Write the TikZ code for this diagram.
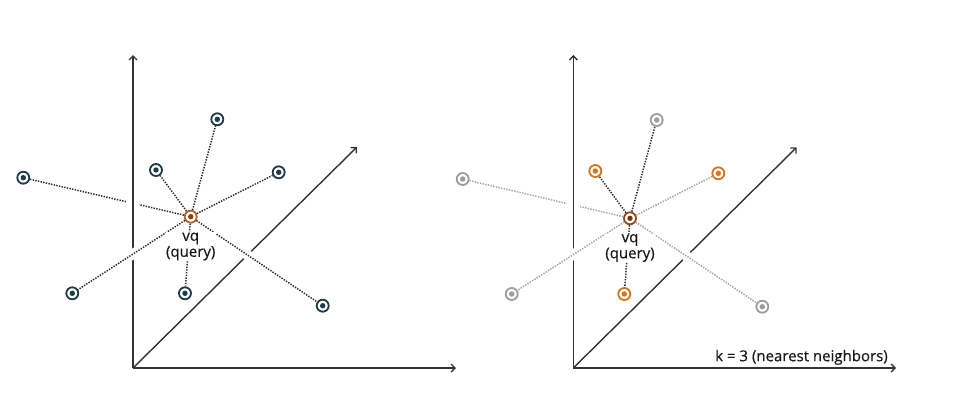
\documentclass[tikz,border=0pt]{standalone}
\usepackage{fontspec}
\setmainfont{Open Sans}
\newfontfamily\medfont[FakeBold=0.5]{Open Sans}
\usetikzlibrary{arrows.meta}
\definecolor{ptdark}{HTML}{1E3B47}
\definecolor{qringA}{HTML}{B4642A}
\definecolor{qdotA}{HTML}{8A3E12}
\definecolor{qringB}{HTML}{8E4A1E}
\definecolor{qdotB}{HTML}{7A3510}
\definecolor{nnorange}{HTML}{D2761E}
\definecolor{ptgray}{HTML}{9D9D9D}
\definecolor{axiscol}{HTML}{333333}
\definecolor{linedark}{HTML}{2E2E2E}
\definecolor{linelight}{HTML}{A5A5A5}
\tikzset{
  pt/.style 2 args={circle, draw=#1, line width=1.8pt, minimum size=12pt, inner sep=0pt, fill=white,
    path picture={\fill[#2] (path picture bounding box.center) circle (2.7pt);}},
  axisline/.style={draw=axiscol, line width=1.4pt, -{Straight Barb[length=4pt,width=8pt]}},
  dotdark/.style={draw=linedark, line width=1.5pt, dash pattern=on 1.4pt off 1.3pt},
  dotlight/.style={draw=linelight, line width=1.5pt, dash pattern=on 1.4pt off 1.3pt},
  halo/.style={draw=white, line width=10pt},
  lbl/.style={font=\medfont\fontsize{15}{16}\selectfont, text=black!90, align=center, fill=white, inner sep=0.4pt},
}
\begin{document}
\begin{tikzpicture}[x=1pt,y=-1pt]
\useasboundingbox (0,0) rectangle (956,402);
\fill[white] (0,0) rectangle (956,402);

% ---------------- left panel ----------------
\coordinate (o1) at (133,368);
\coordinate (yt1) at (133,55);
\coordinate (xe1) at (456,368);
\coordinate (de1) at (357,147);

\node[pt={qringA}{qdotA}] (q1) at (190.7,216.7) {};
\node[pt={ptdark}{ptdark}] (a1) at (217.3,119.3) {};
\node[pt={ptdark}{ptdark}] (b1) at (156,170) {};
\node[pt={ptdark}{ptdark}] (c1) at (278.7,172.3) {};
\node[pt={ptdark}{ptdark}] (f1) at (23.3,177.7) {};
\node[pt={ptdark}{ptdark}] (e1) at (72.3,293.3) {};
\node[pt={ptdark}{ptdark}] (g1) at (185,293.3) {};
\node[pt={ptdark}{ptdark}] (d1) at (322.7,305.7) {};

\draw[dotdark] (f1) -- (q1);
\path (f1.center) -- (q1.center) coordinate[pos=0.655] (x1);
\draw[draw=white, line width=13pt] ([yshift=5pt]x1) -- ([yshift=-5pt]x1);
\draw[axisline] (o1) -- (yt1);
\draw[axisline] (o1) -- (xe1);
\draw[axisline] (o1) -- (de1);
\path (q1.center) -- (e1.center) coordinate[pos=0.42] (h1a) coordinate[pos=0.555] (h1b);
\draw[halo] (h1a) -- (h1b);
\path (q1.center) -- (d1.center) coordinate[pos=0.38] (h1c) coordinate[pos=0.48] (h1d);
\draw[halo] (h1c) -- (h1d);
\draw[dotdark] (q1) -- (a1);
\draw[dotdark] (q1) -- (b1);
\draw[dotdark] (q1) -- (c1);
\draw[dotdark] (q1) -- (e1);
\draw[dotdark] (q1) -- (g1);
\draw[dotdark] (q1) -- (d1);
\node[lbl] (lab1) at (190.7,246.5) {vq\\(query)};

% ---------------- right panel ----------------
\coordinate (o2) at (573.3,368);
\coordinate (yt2) at (573.3,55);
\coordinate (xe2) at (896,368);
\coordinate (de2) at (796.7,147.3);

\node[pt={qringB}{qdotB}] (q2) at (630,218.3) {};
\node[pt={ptgray}{ptgray}] (a2) at (656.7,120) {};
\node[pt={nnorange}{nnorange}] (b2) at (595.3,171) {};
\node[pt={nnorange}{nnorange}] (c2) at (718.3,173.3) {};
\node[pt={ptgray}{ptgray}] (f2) at (462.7,179) {};
\node[pt={ptgray}{ptgray}] (e2) at (511.7,294) {};
\node[pt={nnorange}{nnorange}] (g2) at (624.3,294) {};
\node[pt={ptgray}{ptgray}] (d2) at (762.3,306.7) {};

\draw[dotlight] (f2) -- (q2);
\path (f2.center) -- (q2.center) coordinate[pos=0.661] (x2);
\draw[draw=white, line width=13pt] ([yshift=5pt]x2) -- ([yshift=-5pt]x2);
\draw[axisline] (o2) -- (yt2);
\draw[axisline] (o2) -- (xe2);
\draw[axisline] (o2) -- (de2);
\path (q2.center) -- (e2.center) coordinate[pos=0.41] (h2a) coordinate[pos=0.545] (h2b);
\draw[halo] (h2a) -- (h2b);
\path (q2.center) -- (d2.center) coordinate[pos=0.38] (h2c) coordinate[pos=0.48] (h2d);
\draw[halo] (h2c) -- (h2d);
\draw[dotdark] (q2) -- (a2);
\draw[dotdark] (q2) -- (b2);
\draw[dotlight] (q2) -- (c2);
\draw[dotlight] (q2) -- (e2);
\draw[dotdark] (q2) -- (g2);
\draw[dotlight] (q2) -- (d2);
\node[lbl] (lab2) at (630,248) {vq\\(query)};

\node[font=\medfont\fontsize{15}{16}\selectfont, text=black!90, inner sep=0pt] (klab) at (801.5,357.3) {k = 3 (nearest neighbors)};
\end{tikzpicture}
\end{document}
